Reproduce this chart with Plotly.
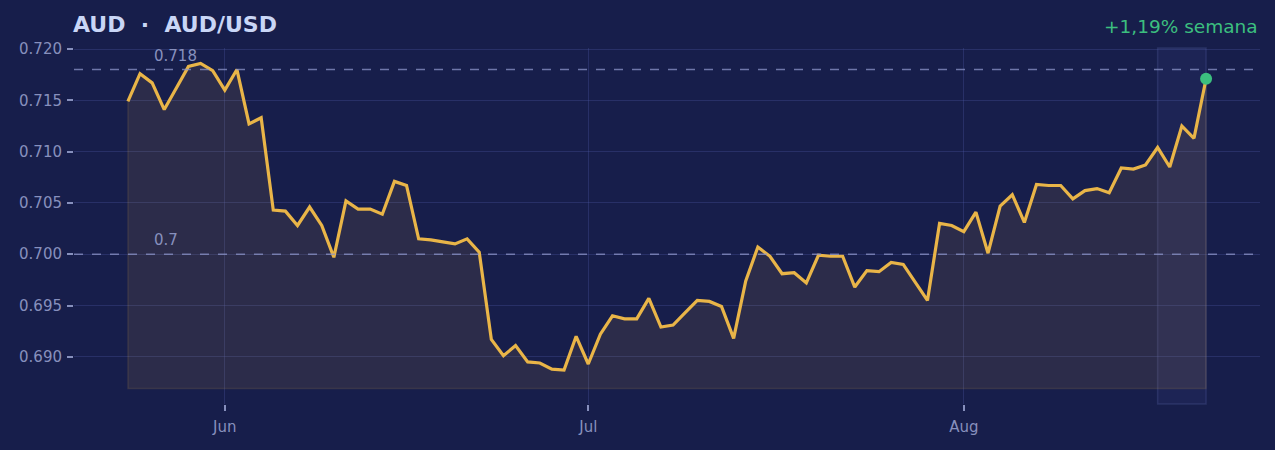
import pandas as pd
import plotly.graph_objects as go

START_DATE = "2024-05-24"
RATES = [
    0.7149, 0.7176, 0.7167, 0.7141, 0.7162, 0.7183, 0.7186, 0.7179, 0.7160, 0.7180,
    0.7127, 0.7133, 0.7043, 0.7042, 0.7028, 0.7046, 0.7028, 0.6997, 0.7052, 0.7044,
    0.7044, 0.7039, 0.7071, 0.7067, 0.7015, 0.7014, 0.7012, 0.7010, 0.7015, 0.7002,
    0.6917, 0.6901, 0.6911, 0.6895, 0.6894, 0.6888, 0.6887, 0.6920, 0.6893, 0.6922,
    0.6940, 0.6937, 0.6937, 0.6957, 0.6929, 0.6931, 0.6943, 0.6955, 0.6954, 0.6949,
    0.6918, 0.6974, 0.7007, 0.6998, 0.6981, 0.6982, 0.6972, 0.6999, 0.6998, 0.6998,
    0.6968, 0.6984, 0.6983, 0.6992, 0.6990, 0.6973, 0.6955, 0.7030, 0.7028, 0.7022,
    0.7041, 0.7001, 0.7047, 0.7058, 0.7031, 0.7068, 0.7067, 0.7067, 0.7054, 0.7062,
    0.7064, 0.7060, 0.7084, 0.7083, 0.7087, 0.7104, 0.7085, 0.7125, 0.7113, 0.7171,
]
DATES = list(pd.date_range(START_DATE, periods=len(RATES), freq="D"))
REF_LEVELS = [0.718, 0.7]
REF_LABELS = ["0.718", "0.7"]
BASELINE = 0.6869
WEEK_START_INDEX = 85
TITLE = "AUD\u00a0\u00a0·\u00a0\u00a0AUD/USD"
CHANGE_TEXT = "+1,19% semana"
Y_TICKS = [0.690, 0.695, 0.700, 0.705, 0.710, 0.715, 0.720]
Y_RANGE = [0.6854, 0.7201]

BG = "#171e4b"
LINE = "#e9b548"
GREEN = "#3cbf7f"
MUTED = "#8790bd"
GRID = "rgba(80,92,170,0.30)"
FONT = "DejaVu Sans"

span = DATES[-1] - DATES[0]
x_range = [DATES[0] - span * 0.05, DATES[-1] + span * 0.05]

fig = go.Figure()

fig.add_trace(go.Scatter(
    x=DATES + [DATES[-1], DATES[0], DATES[0]],
    y=RATES + [BASELINE, BASELINE, RATES[0]],
    fill="toself",
    fillcolor="rgba(232,180,72,0.10)",
    line=dict(color="rgba(232,180,72,0.12)", width=1.5),
    mode="lines",
    hoverinfo="skip",
    showlegend=False,
))

fig.add_trace(go.Scatter(
    x=DATES, y=RATES, mode="lines",
    line=dict(color=LINE, width=3.2),
    showlegend=False,
))

fig.add_trace(go.Scatter(
    x=[DATES[-1]], y=[RATES[-1]], mode="markers",
    marker=dict(color=GREEN, size=12),
    showlegend=False,
))

fig.add_shape(
    type="rect", xref="x", yref="paper",
    x0=DATES[WEEK_START_INDEX], x1=DATES[-1], y0=0, y1=1,
    fillcolor="rgba(110,130,230,0.07)",
    line=dict(color="rgba(120,135,210,0.18)", width=1.5),
    layer="below",
)

for lvl, lab in zip(REF_LEVELS, REF_LABELS):
    fig.add_shape(
        type="line", xref="paper", yref="y",
        x0=0, x1=1, y0=lvl, y1=lvl,
        line=dict(color="rgba(140,148,200,0.75)", width=1.5, dash="dash"),
    )
    fig.add_annotation(
        x=DATES[2], y=lvl, xref="x", yref="y",
        text=lab, showarrow=False,
        xanchor="left", yanchor="bottom", yshift=3,
        font=dict(family=FONT, size=15, color=MUTED),
    )

fig.add_annotation(
    x=0, y=1, xref="paper", yref="paper",
    text="<b>" + TITLE + "</b>", showarrow=False,
    xanchor="left", yanchor="bottom", yshift=9, xshift=-3,
    font=dict(family=FONT, size=22, color="#c9d6f6"),
)
fig.add_annotation(
    x=1, y=1, xref="paper", yref="paper",
    text=CHANGE_TEXT, showarrow=False,
    xanchor="right", yanchor="bottom", yshift=9,
    font=dict(family=FONT, size=18.5, color=GREEN),
)

fig.update_layout(
    width=1275, height=450,
    paper_bgcolor=BG, plot_bgcolor=BG,
    margin=dict(l=74, r=15, t=48, b=46),
    font=dict(family=FONT, size=15, color=MUTED),
    showlegend=False,
)
fig.update_xaxes(
    range=x_range, dtick="M1", tickformat="%b",
    showgrid=True, gridcolor=GRID, gridwidth=1,
    ticks="outside", ticklen=6, tickcolor=MUTED, tickwidth=1.5,
    ticklabelstandoff=3,
    zeroline=False, showline=False,
    tickfont=dict(family=FONT, size=15, color=MUTED),
)
fig.update_yaxes(
    range=Y_RANGE, tickvals=Y_TICKS, tickformat=".3f",
    showgrid=True, gridcolor=GRID, gridwidth=1,
    ticks="outside", ticklen=6, tickcolor=MUTED, tickwidth=1.5,
    ticklabelstandoff=2,
    zeroline=False, showline=False,
    tickfont=dict(family=FONT, size=15, color=MUTED),
)

fig.write_html(
    "out.html",
    config={"displayModeBar": False},
    post_script="document.body.style.margin='0';document.body.style.background='" + BG + "';",
)
